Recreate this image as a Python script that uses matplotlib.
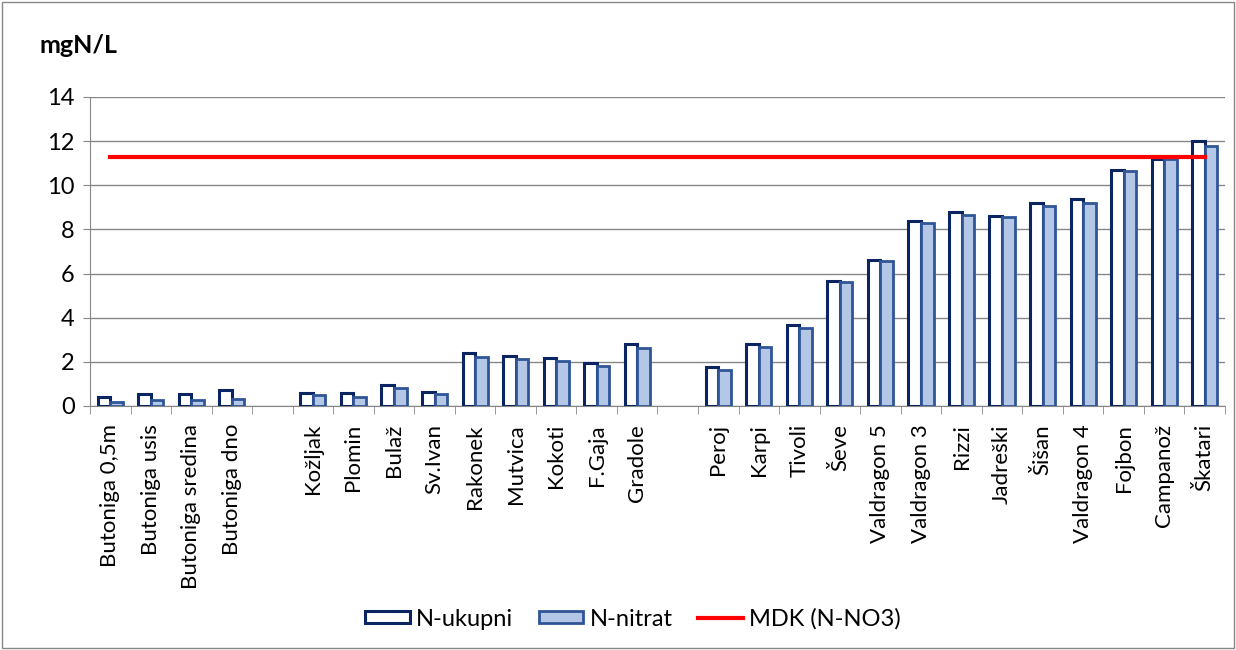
import numpy as np
import matplotlib
matplotlib.use("Agg")
import matplotlib.pyplot as plt
from matplotlib.patches import Patch, Rectangle
from matplotlib.lines import Line2D

plt.rcParams['font.family'] = ['Lato', 'DejaVu Sans']

# data (blank entries are the gaps between groups)
stations = ["Butoniga 0,5m", "Butoniga usis", "Butoniga sredina", "Butoniga dno", "",
            "Kožljak", "Plomin", "Bulaž", "Sv.Ivan", "Rakonek", "Mutvica", "Kokoti", "F.Gaja", "Gradole", "",
            "Peroj", "Karpi", "Tivoli", "Ševe", "Valdragon 5", "Valdragon 3", "Rizzi", "Jadreški",
            "Šišan", "Valdragon 4", "Fojbon", "Campanož", "Škatari"]
n_ukupni = [0.41, 0.55, 0.55, 0.72, np.nan,
            0.60, 0.60, 0.95, 0.65, 2.40, 2.27, 2.18, 1.95, 2.80, np.nan,
            1.78, 2.80, 3.68, 5.68, 6.62, 8.38, 8.78, 8.60, 9.20, 9.38, 10.70, 11.20, 12.00]
n_nitrat = [0.18, 0.28, 0.28, 0.32, np.nan,
            0.50, 0.40, 0.80, 0.55, 2.20, 2.15, 2.05, 1.82, 2.62, np.nan,
            1.65, 2.68, 3.55, 5.60, 6.58, 8.30, 8.65, 8.55, 9.05, 9.20, 10.65, 11.20, 11.80]
mdk = 11.3

fig = plt.figure(figsize=(12.36, 6.5), dpi=100)
ax = fig.add_axes([0.0728, 0.3754, 0.9183, 0.4754])

x = np.arange(len(stations))
w = 0.31
ax.bar(x - w / 2, n_ukupni, w, color='white', edgecolor='#0b2462', linewidth=2.2, label='N-ukupni', zorder=3)
ax.bar(x + w / 2, n_nitrat, w, color='#b4c7e7', edgecolor='#2f5597', linewidth=2, label='N-nitrat', zorder=3)
ax.plot([x[0], x[-1]], [mdk, mdk], color='#ff0000', linewidth=3, zorder=4)

ax.set_xlim(-0.5, len(stations) - 0.5)
ax.set_ylim(0, 14)
ax.set_yticks(range(0, 15, 2))
ax.yaxis.grid(True, color='#878787', linewidth=1)
ax.set_axisbelow(True)
for s in ['top', 'right']:
    ax.spines[s].set_visible(False)
for s in ['left', 'bottom']:
    ax.spines[s].set_color('#878787')
ax.tick_params(axis='y', length=5, color='#878787', labelsize=17, pad=6)

# labels at centres, tick marks at category boundaries
ax.set_xticks(x)
ax.set_xticklabels(stations, rotation=90, fontsize=16, va='top', ha='center')
ax.tick_params(axis='x', which='major', length=0, pad=13)
ax.set_xticks(np.arange(-0.5, len(stations)), minor=True)
ax.tick_params(axis='x', which='minor', length=6, color='#878787')

fig.text(0.032, 0.93, 'mgN/L', fontsize=18, fontweight='bold', va='center')

handles = [Patch(facecolor='white', edgecolor='#0b2462', linewidth=2.2),
           Patch(facecolor='#b4c7e7', edgecolor='#2f5597', linewidth=2),
           Line2D([], [], color='#ff0000', linewidth=3)]
fig.legend(handles, ['N-ukupni', 'N-nitrat', 'MDK (N-NO3)'], loc='center', bbox_to_anchor=(0.512, 0.048),
           ncol=3, frameon=False, fontsize=17, handlelength=1.9, handleheight=0.45, columnspacing=1.1,
           handletextpad=0.25)

fig.patches.append(Rectangle((0.002, 0.003), 0.996, 0.994, transform=fig.transFigure,
                             fill=False, edgecolor='#878787', linewidth=1))

fig.savefig('out.png', dpi=100)
